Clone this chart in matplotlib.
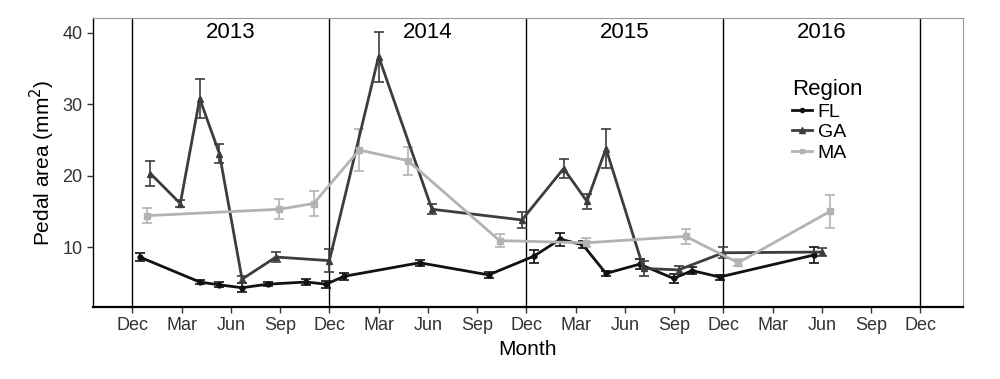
import matplotlib
matplotlib.use('Agg')
import matplotlib.pyplot as plt
from matplotlib.lines import Line2D
import numpy as np

plt.rcParams['font.family'] = ['Liberation Sans', 'DejaVu Sans']

# x = months since Dec 2012
fl_month = [0.45, 4.1, 5.3, 6.68, 8.26, 10.58, 11.8, 12.9, 17.5, 21.7, 24.44,
            26.07, 27.45, 28.85, 30.9, 32.97, 34.1, 35.77, 41.55]
fl_area = [8.6, 5.1, 4.7, 4.3, 4.8, 5.1, 4.8, 5.9, 7.8, 6.1, 8.7,
           11.1, 10.3, 6.3, 7.6, 5.6, 6.7, 5.8, 8.9]
fl_se = [0.5, 0.3, 0.35, 0.6, 0.25, 0.4, 0.5, 0.45, 0.4, 0.4, 0.95,
         0.9, 0.5, 0.3, 0.7, 0.6, 0.45, 0.35, 1.15]

ga_month = [1.1, 2.92, 4.1, 5.3, 6.68, 8.75, 12.0, 15.0, 18.25, 23.73,
            26.27, 27.69, 28.85, 31.14, 33.27, 36.0, 42.0]
ga_area = [20.3, 16.1, 30.8, 23.1, 5.5, 8.6, 8.1, 36.7, 15.3, 13.8,
           21.0, 16.4, 23.8, 7.0, 6.8, 9.2, 9.3]
ga_se = [1.7, 0.5, 2.7, 1.3, 0.5, 0.7, 1.6, 3.5, 0.7, 1.1,
         1.3, 1.05, 2.7, 1.1, 0.6, 0.8, 0.5]

ma_month = [0.9, 8.95, 11.04, 13.82, 16.79, 22.37, 27.65, 33.7, 36.9, 42.5]
ma_area = [14.4, 15.3, 16.1, 23.6, 22.1, 10.9, 10.6, 11.5, 7.8, 15.0]
ma_se = [1.05, 1.4, 1.8, 3.0, 1.95, 0.93, 0.63, 1.05, 0.5, 2.3]

years = ['2013', '2014', '2015', '2016']
tick_labels = ['Dec', 'Mar', 'Jun', 'Sep'] * 4 + ['Dec']

fig = plt.figure(figsize=(10, 3.79), dpi=100)
ax = fig.add_axes([0.093, 0.19, 0.870, 0.7625])

for d in range(0, 49, 12):
    ax.axvline(d, color='black', lw=1.0, zorder=1)

series = [
    ('FL', fl_month, fl_area, fl_se, '#111111', 'o', 3.5),
    ('GA', ga_month, ga_area, ga_se, '#3d3d3d', '^', 4.5),
    ('MA', ma_month, ma_area, ma_se, '#b3b3b3', 's', 4),
]
handles = []
for name, x, y, e, c, m, ms in series:
    ax.errorbar(x, y, yerr=e, color=c, lw=2, marker=m, ms=ms,
                capsize=3.5, elinewidth=1.2, capthick=1.2, zorder=3)
    handles.append(Line2D([], [], color=c, lw=2, marker=m, ms=ms - 0.5, label=name))

for i, yr in enumerate(years):
    ax.text(6 + 12 * i, 40, yr, ha='center', va='center', fontsize=16)

ax.set_xlim(-2.4, 50.6)
ax.set_ylim(1.6, 42.1)
ax.set_xticks(np.arange(0, 49, 3))
ax.set_xticklabels(tick_labels, fontsize=13, color='#333333')
ax.set_yticks([10, 20, 30, 40])
ax.tick_params(axis='y', labelsize=13, labelcolor='#333333')
ax.tick_params(direction='out', length=4, width=1, color='#333333')

ax.spines['left'].set_color('black')
ax.spines['bottom'].set_color('black')
ax.spines['bottom'].set_linewidth(1.6)
ax.spines['left'].set_linewidth(1.0)
ax.spines['top'].set_color('#999999')
ax.spines['right'].set_color('#999999')

ax.set_xlabel('Month', fontsize=15)
ax.set_ylabel('Pedal area (mm$^2$)', fontsize=15)

leg = ax.legend(handles=handles, title='Region', loc='upper left',
                bbox_to_anchor=(0.795, 0.815),
                frameon=False, fontsize=14, title_fontsize=16,
                handlelength=1.0, handletextpad=0.3, labelspacing=0.15,
                borderaxespad=0)
leg._legend_box.align = 'left'

fig.savefig('out.png', dpi=100)
